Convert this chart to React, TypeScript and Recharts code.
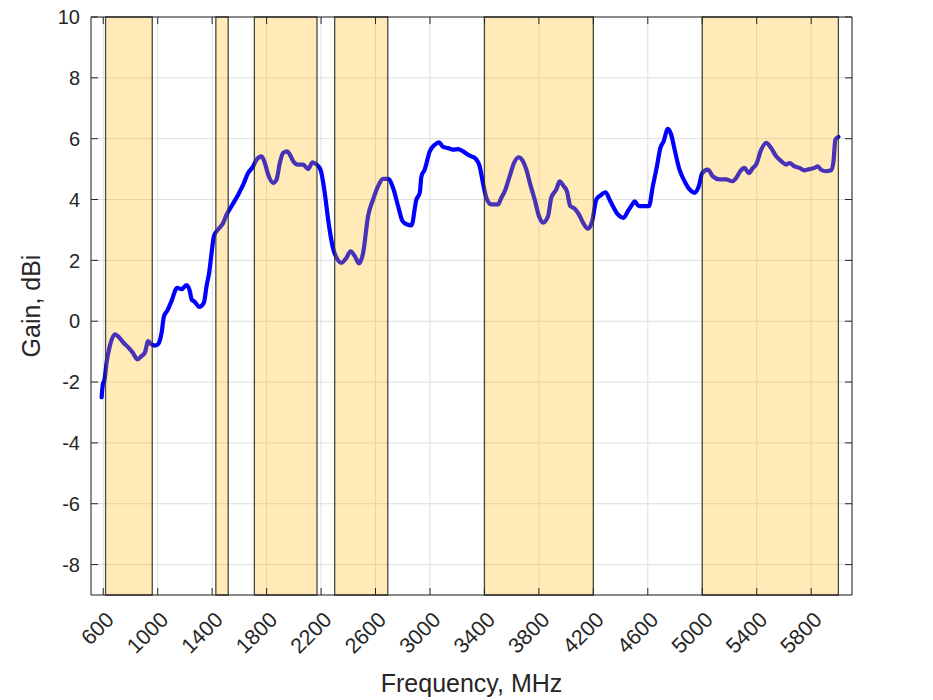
import {
  CartesianGrid,
  Label,
  Line,
  LineChart,
  ReferenceArea,
  XAxis,
  YAxis,
} from "recharts";

// Measured antenna gain vs. frequency
const freqMHz = [
  588, 598, 608, 625, 649, 686, 710, 747, 784, 816, 852, 882, 906, 930, 950,
  980, 1004, 1029, 1046, 1070, 1102, 1143, 1175, 1212, 1236, 1249, 1273, 1305,
  1339, 1359, 1378, 1396, 1413, 1444, 1481, 1506, 1542, 1591, 1628, 1664, 1701,
  1726, 1763, 1787, 1811, 1848, 1873, 1897, 1921, 1951, 1970, 1995, 2031, 2068,
  2105, 2137, 2166, 2196, 2227, 2252, 2284, 2325, 2350, 2387, 2416, 2448, 2479,
  2509, 2545, 2582, 2619, 2655, 2692, 2729, 2766, 2798, 2832, 2864, 2900, 2925,
  2937, 2961, 2998, 3035, 3066, 3096, 3133, 3169, 3206, 3243, 3292, 3329, 3365,
  3389, 3414, 3451, 3500, 3524, 3549, 3585, 3617, 3651, 3683, 3708, 3737, 3769,
  3801, 3830, 3867, 3891, 3928, 3952, 3982, 4006, 4031, 4063, 4094, 4124, 4160,
  4192, 4222, 4251, 4290, 4319, 4344, 4380, 4422, 4454, 4486, 4503, 4535, 4576,
  4608, 4637, 4667, 4692, 4716, 4747, 4772, 4797, 4833, 4870, 4907, 4943, 4975,
  5000, 5041, 5078, 5127, 5176, 5220, 5250, 5279, 5311, 5342, 5372, 5396, 5433,
  5470, 5506, 5543, 5580, 5617, 5641, 5678, 5714, 5751, 5788, 5825, 5849, 5873,
  5910, 5947, 5964, 5978, 6000,
];

const gainDbi = [
  -2.5, -2.05, -1.95, -1.35, -0.8, -0.43, -0.5, -0.7, -0.86, -1.03, -1.25,
  -1.14, -1.03, -0.65, -0.75, -0.8, -0.75, -0.37, 0.17, 0.34, 0.67, 1.1, 1.05,
  1.19, 0.99, 0.72, 0.63, 0.47, 0.61, 1.16, 1.6, 2.25, 2.8, 3.02, 3.23, 3.5,
  3.78, 4.16, 4.49, 4.87, 5.09, 5.31, 5.42, 5.2, 4.82, 4.55, 4.66, 5.2, 5.53,
  5.58, 5.48, 5.26, 5.15, 5.15, 5.0, 5.22, 5.15, 4.98, 4.22, 3.34, 2.47, 2.0,
  1.92, 2.09, 2.3, 2.14, 1.9, 2.25, 3.45, 4.0, 4.44, 4.68, 4.68, 4.38, 3.78,
  3.29, 3.18, 3.15, 4.0, 4.22, 4.76, 4.98, 5.58, 5.8, 5.88, 5.73, 5.69, 5.64,
  5.66, 5.58, 5.44, 5.37, 5.09, 4.55, 4.06, 3.84, 3.84, 4.06, 4.27, 4.76, 5.2,
  5.39, 5.26, 4.98, 4.49, 4.0, 3.45, 3.24, 3.45, 4.06, 4.33, 4.6, 4.44, 4.27,
  3.78, 3.7, 3.51, 3.24, 3.04, 3.3, 4.0, 4.13, 4.24, 4.0, 3.78, 3.51, 3.4,
  3.62, 3.84, 3.94, 3.78, 3.78, 3.78, 4.44, 5.09, 5.69, 5.91, 6.32, 6.13, 5.64,
  4.98, 4.6, 4.33, 4.22, 4.44, 4.87, 4.98, 4.76, 4.66, 4.66, 4.6, 4.71, 4.93,
  5.04, 4.87, 5.04, 5.15, 5.64, 5.86, 5.69, 5.42, 5.26, 5.15, 5.2, 5.09, 5.04,
  4.96, 5.0, 5.04, 5.09, 4.98, 4.93, 4.96, 5.26, 5.97, 6.06,
];

// Highlighted frequency bands (MHz)
const bandStart = [617, 1427, 1710, 2300, 3400, 5000];
const bandEnd = [960, 1518, 2170, 2690, 4200, 6000];

const xTicks = [
  600, 1000, 1400, 1800, 2200, 2600, 3000, 3400, 3800, 4200, 4600, 5000, 5400,
  5800,
];
const yTicks = [-8, -6, -4, -2, 0, 2, 4, 6, 8, 10];

const chartData = freqMHz.map((f, i) => ({ freq: f, gain: gainDbi[i] }));

const FONT = "'Liberation Sans', Arial, Helvetica, sans-serif";
const INK = "#262626";
const TICK_LEN = 7;

const BottomTick = ({ x, y, payload }: any) => {
  const tx = x + 12;
  const ty = y + 26;
  return (
    <g>
      <line x1={x} y1={y} x2={x} y2={y - TICK_LEN} stroke={INK} />
      <text
        x={tx}
        y={ty}
        transform={`rotate(-45 ${tx} ${ty})`}
        textAnchor="end"
        fontSize={21.5}
        fontFamily={FONT}
        fill={INK}
      >
        {payload.value}
      </text>
    </g>
  );
};

const TopTick = ({ x, y }: any) => (
  <line x1={x} y1={y} x2={x} y2={y + TICK_LEN} stroke={INK} />
);

const LeftTick = ({ x, y, payload }: any) => (
  <g>
    <line x1={x} y1={y} x2={x + TICK_LEN} y2={y} stroke={INK} />
    <text
      x={x - 11}
      y={y}
      dy="0.36em"
      textAnchor="end"
      fontSize={20}
      fontFamily={FONT}
      fill={INK}
    >
      {payload.value}
    </text>
  </g>
);

const RightTick = ({ x, y }: any) => (
  <line x1={x} y1={y} x2={x - TICK_LEN} y2={y} stroke={INK} />
);

export default function App() {
  return (
    <div style={{ position: "absolute", left: 0, top: 0, background: "#fff" }}>
      <LineChart
        width={933}
        height={700}
        data={chartData}
        margin={{ top: 16, right: 80, left: 31, bottom: 0 }}
      >
        <CartesianGrid stroke="#dedede" strokeWidth={1} />
        <XAxis
          dataKey="freq"
          type="number"
          domain={[510, 6100]}
          ticks={xTicks}
          allowDataOverflow
          height={105}
          tickSize={0}
          tickMargin={0}
          tickLine={false}
          tick={<BottomTick />}
          stroke={INK}
          interval={0}
        >
          <Label
            content={({ viewBox }: any) => (
              <text
                x={viewBox.x + viewBox.width / 2}
                y={692}
                textAnchor="middle"
                fontSize={25}
                fontFamily={FONT}
                fill={INK}
              >
                Frequency, MHz
              </text>
            )}
          />
        </XAxis>
        <XAxis
          xAxisId="top"
          orientation="top"
          dataKey="freq"
          type="number"
          domain={[510, 6100]}
          ticks={xTicks}
          allowDataOverflow
          height={1}
          tickSize={0}
          tickMargin={0}
          tickLine={false}
          tick={<TopTick />}
          stroke={INK}
          interval={0}
        />
        <YAxis
          type="number"
          domain={[-9, 10]}
          ticks={yTicks}
          allowDataOverflow
          width={60}
          tickSize={0}
          tickMargin={0}
          tickLine={false}
          tick={<LeftTick />}
          stroke={INK}
          interval={0}
        >
          <Label
            content={({ viewBox }: any) => {
              const lx = 40;
              const ly = viewBox.y + viewBox.height / 2;
              return (
                <text
                  x={lx}
                  y={ly}
                  transform={`rotate(-90 ${lx} ${ly})`}
                  textAnchor="middle"
                  fontSize={25}
                  fontFamily={FONT}
                  fill={INK}
                >
                  Gain, dBi
                </text>
              );
            }}
          />
        </YAxis>
        <YAxis
          yAxisId="right"
          orientation="right"
          type="number"
          domain={[-9, 10]}
          ticks={yTicks}
          allowDataOverflow
          width={1}
          tickSize={0}
          tickMargin={0}
          tickLine={false}
          tick={<RightTick />}
          stroke={INK}
          interval={0}
        />
        <Line
          type="monotone"
          dataKey="gain"
          stroke="#0000ff"
          strokeWidth={4.2}
          strokeLinecap="round"
          strokeLinejoin="round"
          dot={false}
          activeDot={false}
          isAnimationActive={false}
        />
        {bandStart.map((s, i) => (
          <ReferenceArea
            key={s}
            x1={s}
            x2={bandEnd[i]}
            fill="#ffb400"
            fillOpacity={0.28}
            stroke="#2a2a2a"
            strokeOpacity={0.85}
            strokeWidth={1.3}
            ifOverflow="extendDomain"
            {...({ zIndex: 450 } as any)}
          />
        ))}
      </LineChart>
    </div>
  );
}
